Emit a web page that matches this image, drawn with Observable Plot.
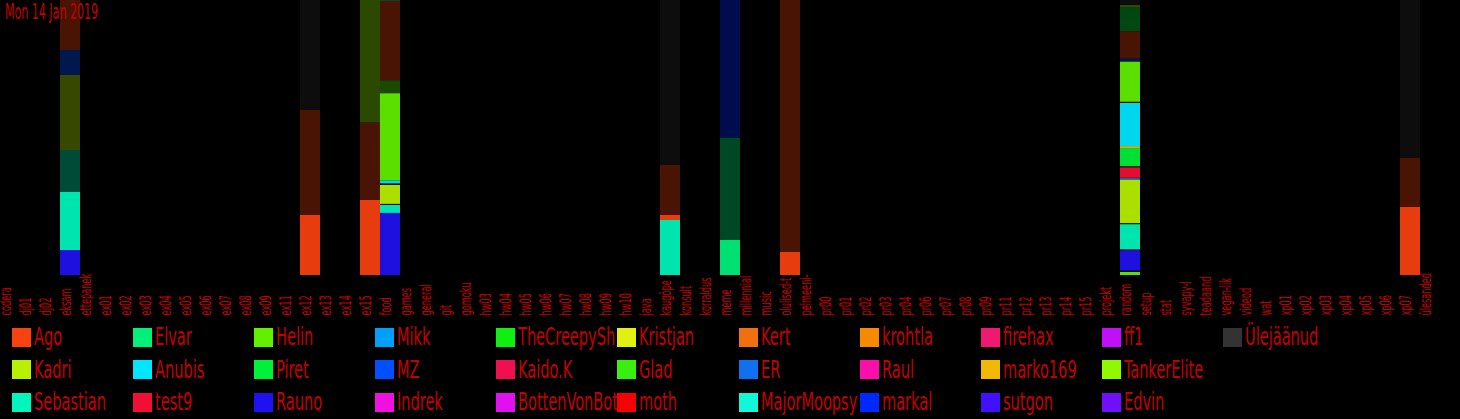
<!DOCTYPE html>
<html>
<head>
<meta charset="utf-8">
<script src="https://cdn.jsdelivr.net/npm/d3@7"></script>
<script src="https://cdn.jsdelivr.net/npm/@observablehq/plot@0.6"></script>
<style>
html, body { margin: 0; padding: 0; background: #000; }
#wrap { position: relative; width: 1460px; height: 419px; overflow: hidden; background: #000; }
#chart { position: absolute; left: 0; top: 0; }
#title { position: absolute; left: 5px; top: 2px; color: #c40000; font-size: 21px; line-height: 21px; white-space: nowrap; transform-origin: 0 0; }
#legend { position: absolute; left: 12px; top: 321px; display: grid; grid-auto-flow: column;
  grid-template-rows: repeat(3, 32.5px); grid-template-columns: repeat(11, 121.1px); }
.item { display: flex; align-items: center; overflow: hidden; white-space: nowrap; }
.sw { width: 19px; height: 19px; flex: none; margin-right: 3px; }
.lab { color: #c40000; font-size: 24px; line-height: 24px; display: inline-block; transform-origin: 0 50%; }
</style>
</head>
<body>
<div id="wrap">
  <div id="chart"></div>
  <div id="title"></div>
  <div id="legend"></div>
</div>
<script>
const FONT = '"Liberation Sans Narrow", "DejaVu Sans Condensed", "Liberation Sans", Arial, sans-serif';
const TEXT_RED = "#c40000";

const titleText = "Mon 14 Jan 2019";

const channels = [
  "codera","dj01","dj02","eksam","ettepanek","ex01","ex02","ex03","ex04","ex05","ex06","ex07","ex08","ex09",
  "ex11","ex12","ex13","ex14","ex15","food","games","general","git","gomoku","hw03","hw04","hw05","hw06",
  "hw07","hw08","hw09","hw10","java","kaugõpe","konsult","korraldus","meme","millennial","music","olulised-t",
  "pelmeeni-","pr00","pr01","pr02","pr03","pr04","pr06","pr07","pr08","pr09","pr11","pr12","pr13","pr14",
  "pr15","projekt","random","setup","stat","syvapy-l","teadaand","vegan-lik","videod","wat","xp01","xp02",
  "xp03","xp04","xp05","xp06","xp07","ülesanded"
];

const users = [
  "Ago","Kadri","Sebastian","Elvar","Anubis","test9","Helin","Piret","Rauno","Mikk","MZ","Indrek",
  "TheCreepySh","Kaido.K","BottenVonBot","Kristjan","Glad","moth","Kert","ER","MajorMoopsy",
  "krohtla","Raul","markal","firehax","marko169","sutgon","ff1","TankerElite","Edvin","Ülejäänud"
];

const userColors = [
  "#f8420f","#b8f000","#00f5bc","#00f07a","#00e6ff","#f20f35","#62f000","#00f03a","#2012f0","#00a0f8","#0050ff","#f010e0",
  "#10f010","#f01050","#e010f0","#e0f010","#38f010","#f80000","#f07010","#1070f0","#10f8d8",
  "#f88a00","#f810a8","#0028ff","#f01870","#f0b800","#4010ff","#c010f8","#90f800","#7010f8","#333333"
];

// Stack segments, bottom to top: [channel, user, messages, today (1) / earlier (0)]
const segments = [
  ["eksam","Rauno",25,1],["eksam","Sebastian",58,1],["eksam","Sebastian",42,0],["eksam","Kadri",75,0],["eksam","MZ",25,0],["eksam","Ago",50,0],
  ["ex12","Ago",60,1],["ex12","Ago",105,0],["ex12","Ülejäänud",110,0],
  ["ex15","Ago",75,1],["ex15","Ago",77,0],["ex15","TankerElite",122,0],
  ["food","Rauno",62,1],["food","Sebastian",8,1],["food","Ülejäänud",1,0],["food","Kadri",19,1],["food","Ülejäänud",1.5,0],
  ["food","Anubis",3,1],["food","Helin",87,1],["food","Helin",13,0],["food","Ago",79,0],["food","Elvar",1,0],
  ["kaugõpe","Sebastian",55,1],["kaugõpe","Ago",5,1],["kaugõpe","Ago",50,0],["kaugõpe","Ülejäänud",165,0],
  ["meme","Elvar",35,1],["meme","Elvar",102,0],["meme","markal",137,0],
  ["olulised-t","Ago",23,1],["olulised-t","Ago",252,0],
  ["random","Helin",3,1],["random","Ülejäänud",1.5,0],["random","Rauno",20,1],["random","Ülejäänud",1,0],
  ["random","Sebastian",25,1],["random","Ülejäänud",1,0],["random","Kadri",43,1],["random","Mikk",1.5,1],
  ["random","Kaido.K",1,1],["random","test9",10,1],["random","Ülejäänud",1,0],["random","Piret",18,1],
  ["random","marko169",2,1],["random","Anubis",43,1],["random","Ülejäänud",1,0],["random","Helin",40,1],
  ["random","MZ",3,0],["random","Ago",27,0],["random","Piret",24,0],["random","Kadri",2,0],["random","Ülejäänud",5,0],
  ["xp07","Ago",68,1],["xp07","Ago",49,0],["xp07","Ülejäänud",157,0]
];

// shading of a colour over the black background
function shade(c, k) {
  const col = d3.rgb(c);
  return d3.rgb(col.r * k, col.g * k, col.b * k).formatHex();
}
const colorOf = new Map(users.map((u, i) => [u, userColors[i]]));
const rows = segments.map(([channel, user, value, today]) => ({
  channel, user, value,
  fill: shade(colorOf.get(user), today ? 0.93 : (user === "Ülejäänud" ? 0.25 : 0.3))
}));

const ctx = document.createElement("canvas").getContext("2d");
function textWidth(t, size) { ctx.font = `${size}px ${FONT}`; return ctx.measureText(t).width; }

const chart = Plot.plot({
  width: 1460,
  height: 320,
  marginTop: 0,
  marginBottom: 45,
  marginLeft: 0,
  marginRight: 20,
  style: { background: "#000", fontFamily: FONT },
  x: { domain: channels, padding: 0, axis: null },
  y: { axis: null },
  color: { type: "identity" },
  marks: [
    Plot.barY(rows, Plot.stackY({ x: "channel", y: "value", fill: "fill", offset: "normalize" })),
    Plot.text(channels, {
      x: d => d, text: d => d, frameAnchor: "bottom", dy: 40, rotate: -90,
      textAnchor: "start", fill: TEXT_RED, fontSize: 15
    })
  ]
});
document.getElementById("chart").appendChild(chart);

// condense the axis labels like the original narrow typeface
const axisScale = (30 + 40) / (textWidth("codera", 15) + textWidth("ettepanek", 15));
d3.select(chart).selectAll("text").each(function () {
  const t = this.getAttribute("transform") || "";
  this.setAttribute("transform", t + ` scale(${axisScale},1)`);
});

const title = document.getElementById("title");
title.style.fontFamily = FONT;
title.textContent = titleText;
title.style.transform = `scaleX(${93 / textWidth(titleText, 21)})`;

const legendScale = (73 + 78) / (textWidth("Sebastian", 24) + textWidth("TankerElite", 24));
const legend = d3.select("#legend");
users.forEach((u, i) => {
  const item = legend.append("div").attr("class", "item");
  item.append("div").attr("class", "sw").style("background", userColors[i]);
  item.append("span").attr("class", "lab").style("font-family", FONT)
    .style("transform", `scaleX(${legendScale})`).text(u);
});
</script>
</body>
</html>
